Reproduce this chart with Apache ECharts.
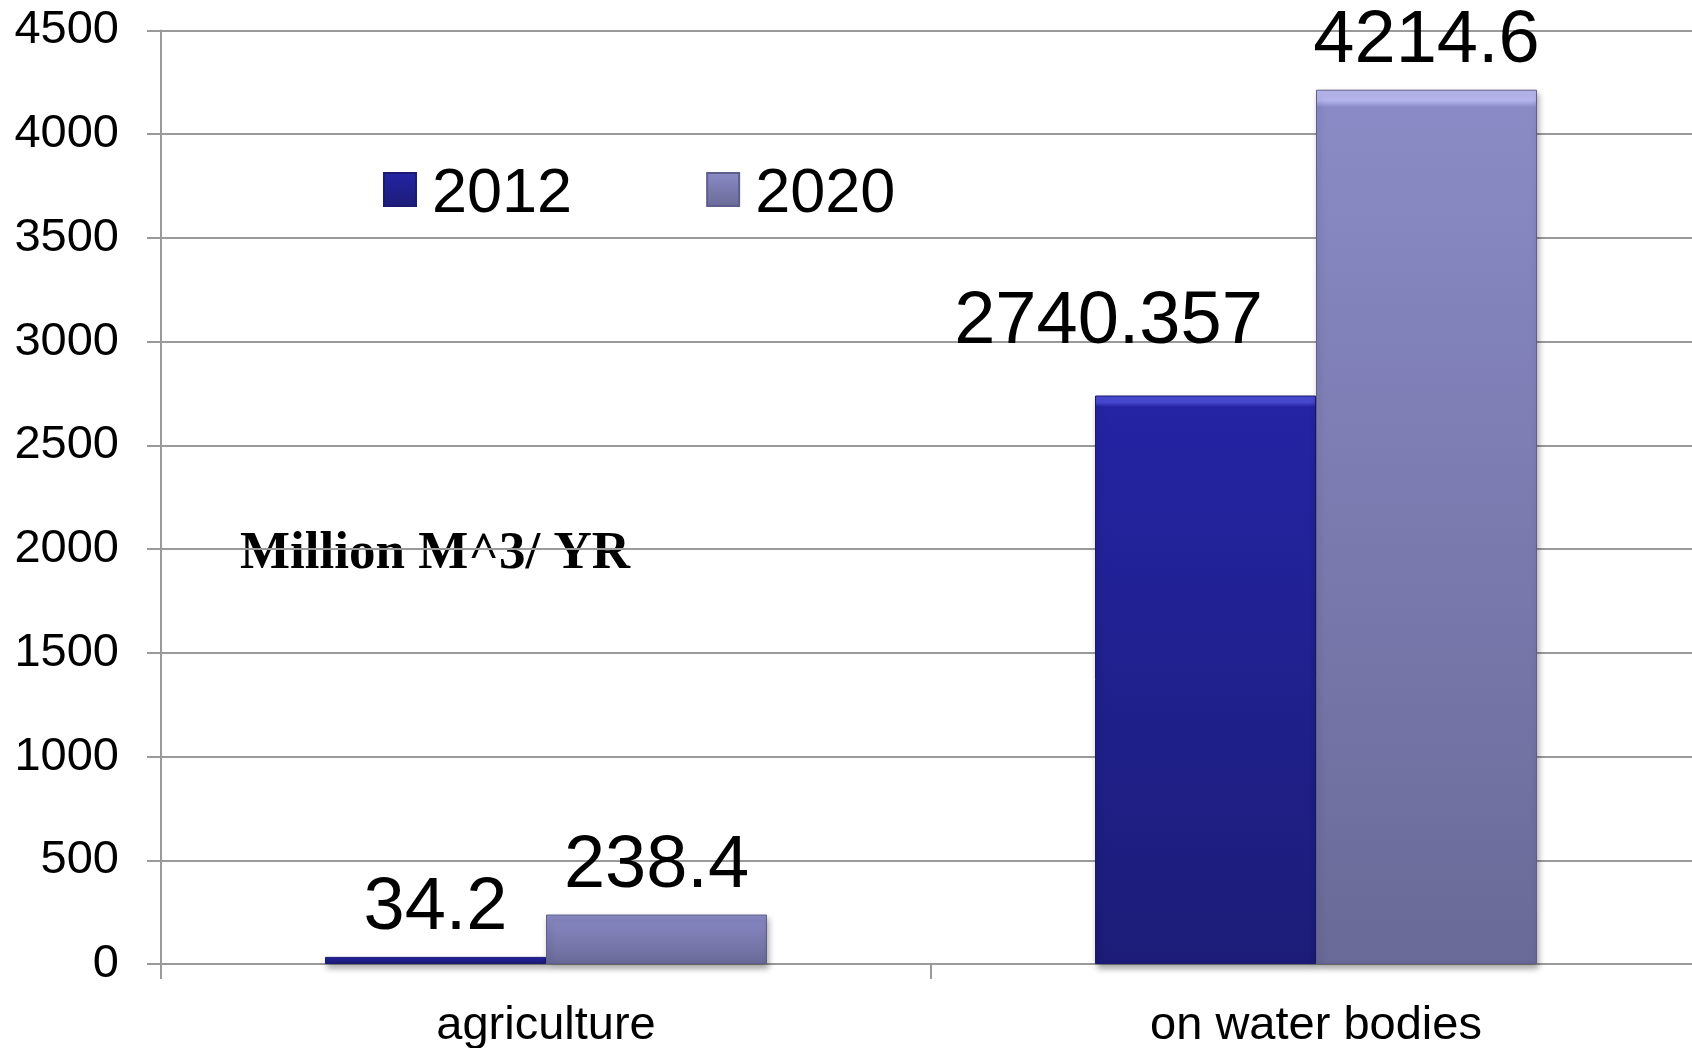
<!DOCTYPE html>
<html>
<head>
<meta charset="utf-8">
<script src="https://cdn.jsdelivr.net/npm/echarts@6/dist/echarts.min.js"></script>
<style>
html,body{margin:0;padding:0;background:#fff;}
#chart{width:1692px;height:1048px;}
</style>
</head>
<body>
<div id="chart"></div>
<script>
const categories = ['agriculture', 'on water bodies'];
const seriesNames = ['2012', '2020'];
const values2012 = [34.2, 2740.357];
const values2020 = [238.4, 4214.6];
const yTicks = [0, 500, 1000, 1500, 2000, 2500, 3000, 3500, 4000, 4500];
const unitText = 'Million M^3/ YR';

const FONT = '"Liberation Sans", Arial, sans-serif';
const chart = echarts.init(document.getElementById('chart'));

function grad(top, stripe, bottom) {
  return new echarts.graphic.LinearGradient(0, 0, 0, 1, [
    {offset: 0, color: stripe},
    {offset: 0.012, color: stripe},
    {offset: 0.02, color: top},
    {offset: 1, color: bottom}
  ]);
}
const c2012 = grad('#2424a4', '#4a4ad6', '#1c1c78');
const c2020 = grad('#8a8ac6', '#b8b8f0', '#6a6a98');
const shadow = {shadowColor: 'rgba(0,0,0,0.35)', shadowBlur: 6, shadowOffsetX: 2, shadowOffsetY: 4};

const gridColor = '#9a9a9a';
const labelStyle = {show: true, position: 'top', distance: 11, fontSize: 74, color: '#000', fontFamily: FONT};

chart.setOption({
  animation: false,
  backgroundColor: '#ffffff',
  grid: {left: 161, top: 30.5, width: 1540, height: 933.5, containLabel: false, outerBoundsMode: 'none'},
  legend: {
    left: 378, top: 158.5,
    itemWidth: 32, itemHeight: 33, itemGap: 134,
    icon: 'rect',
    data: seriesNames,
    formatter: '{t|{name}}',
    textStyle: {
      fontSize: 63, color: '#000', fontFamily: FONT, padding: [0, 0, 0, 11],
      rich: {t: {fontSize: 63, color: '#000', fontFamily: FONT, padding: [11, 0, 0, 0]}}
    }
  },
  xAxis: {
    type: 'category',
    data: categories,
    axisLine: {lineStyle: {color: gridColor, width: 2}},
    axisTick: {show: true, length: 15, lineStyle: {color: gridColor, width: 2}},
    axisLabel: {fontSize: 47, color: '#000', fontFamily: FONT, margin: 39}
  },
  yAxis: {
    type: 'value',
    min: yTicks[0], max: yTicks[yTicks.length - 1], interval: 500,
    axisLine: {show: true, lineStyle: {color: gridColor, width: 2}},
    axisTick: {show: true, length: 14, lineStyle: {color: gridColor, width: 2}},
    splitLine: {lineStyle: {color: gridColor, width: 2}},
    axisLabel: {fontSize: 47, color: '#000', fontFamily: FONT, margin: 42, formatter: v => String(v)}
  },
  series: [
    {
      name: seriesNames[0], type: 'bar', barGap: '0%', barCategoryGap: '42.6%',
      data: values2012.map((v, i) => i === 1 ? {value: v, label: {offset: [-97, -25]}} : v),
      itemStyle: Object.assign({color: c2012, borderColor: '#1a1a70', borderWidth: 1}, shadow),
      label: labelStyle
    },
    {
      name: seriesNames[1], type: 'bar', barGap: '0%', barCategoryGap: '42.6%',
      data: values2020,
      itemStyle: Object.assign({color: c2020, borderColor: '#5e5e8c', borderWidth: 1}, shadow),
      label: labelStyle
    }
  ],
  graphic: [{
    type: 'text', left: 240, top: 528,
    style: {text: unitText, fontSize: 53, fontWeight: 'bold', fill: '#000',
      fontFamily: '"Liberation Serif", "Times New Roman", serif'}
  }]
});
</script>
</body>
</html>
